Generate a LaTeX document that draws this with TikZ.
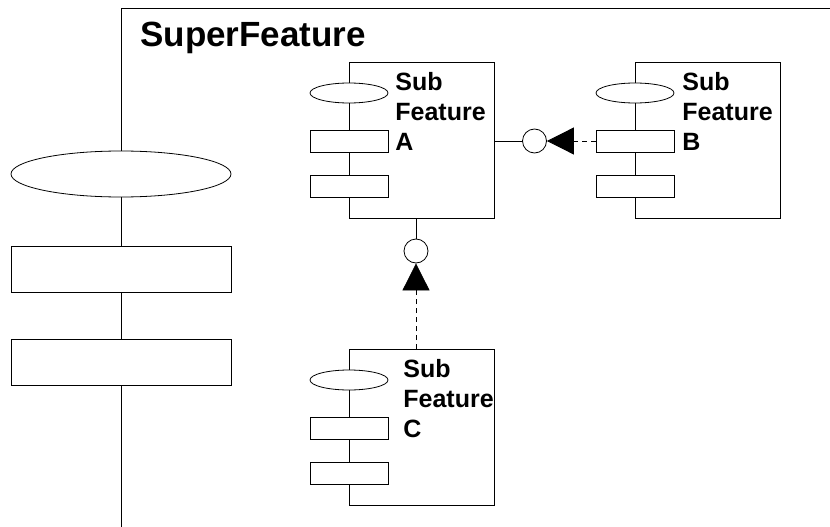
\documentclass[tikz,border=0pt]{standalone}
\usepackage{fontspec}
\setmainfont{Liberation Sans}
\usetikzlibrary{shapes.geometric,arrows.meta}

\begin{document}
\begin{tikzpicture}[x=1pt, y=-1pt, line width=0.8pt,
  bigport/.style={draw, ellipse, fill=white, inner sep=0, minimum width=220, minimum height=46},
  bigslot/.style={draw, rectangle, fill=white, inner sep=0, minimum width=220, minimum height=46},
  port/.style={draw, ellipse, fill=white, inner sep=0, minimum width=78, minimum height=20},
  slot/.style={draw, rectangle, fill=white, inner sep=0, minimum width=78, minimum height=22},
  subbox/.style={draw, rectangle, inner sep=0, anchor=north west, minimum width=145, minimum height=156},
  iface/.style={draw, circle, fill=white, inner sep=0, minimum size=24},
  dep/.style={dash pattern=on 5pt off 4pt, -{Triangle[length=27pt, width=27pt]}},
  subname/.style={anchor=base west, inner sep=0, align=left, font=\fontsize{25}{30}\selectfont\bfseries}]

\useasboundingbox (0,0) rectangle (830,527);

\def\xs{121}; % left edge of the super feature
\def\ys{8};   % its top edge

% super feature frame
\coordinate (sfBot) at (\xs,527);
\coordinate (sfTop) at (\xs,\ys);
\coordinate (sfRight) at (830,\ys);
\draw (sfBot) -- (sfTop) -- (sfRight);
\node[anchor=base west, inner sep=0, font=\fontsize{35}{42}\selectfont\bfseries] (sfName) at (140,46.5) {SuperFeature};

% ports of the super feature
\node[bigport] (sfPort) at (\xs,174) {};
\node[bigslot] (sfSlotA) at (\xs,269) {};
\node[bigslot] (sfSlotB) at (\xs,362) {};

% sub features: name / left / top / text offset
% (base of the name is its last line)
\foreach \nm/\xl/\yt/\dt in {A/349/62/46, B/635/62/47, C/349/349/54} {
  \node[subbox] (box\nm) at (\xl,\yt) {};
  \node[port] (port\nm) at (\xl,\yt+31) {};
  \node[slot] (slot\nm1) at (\xl,\yt+79) {};
  \node[slot] (slot\nm2) at (\xl,\yt+124) {};
  \node[subname] (name\nm) at (\xl+\dt,\yt+88) {Sub\\Feature\\\nm};
}

% interfaces of A
\node[iface] (ifA) at (534.5,141) {};
\node[iface] (ifC) at (416,251) {};

\draw (boxA.east |- ifA) -- (ifA.west);
\draw[dep] (slotB1.west) -- (ifA.east);

\draw (ifC |- boxA.south) -- (ifC.north);
\draw[dep] (ifC |- boxC.north) -- (ifC.south);

\end{tikzpicture}
\end{document}
